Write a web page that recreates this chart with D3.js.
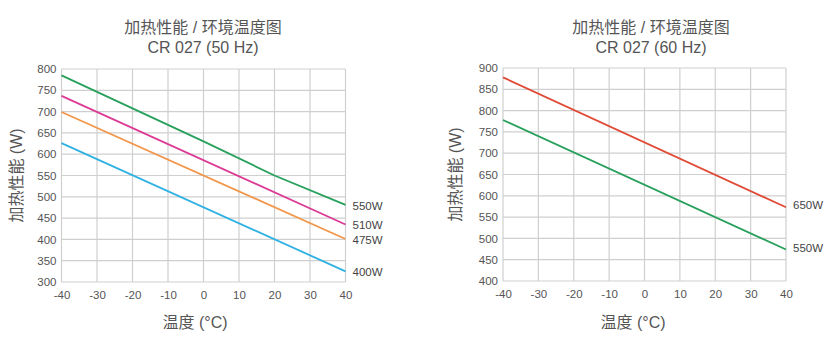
<!DOCTYPE html>
<html>
<head>
<meta charset="utf-8">
<script src="https://cdn.jsdelivr.net/npm/d3@7"></script>
<style>
  html, body { margin: 0; padding: 0; background: #fff; }
  svg { display: block; }
  .tick-label { font-family: "Liberation Sans", Arial, sans-serif; font-size: 11.5px; fill: #555; }
  .title { font-family: "Liberation Sans", "Noto Sans CJK SC", sans-serif; font-size: 16px; fill: #555; }
  .axis-title { font-family: "Liberation Sans", "Noto Sans CJK SC", sans-serif; font-size: 16px; fill: #555; }
  .series-label { font-family: "Liberation Sans", Arial, sans-serif; font-size: 11.5px; fill: #444; }
</style>
</head>
<body>
<svg id="chart" width="832" height="348"></svg>
<script>
// Heating output vs ambient temperature, CR 027 at 50 Hz and 60 Hz
const titleLine1 = "加热性能 / 环境温度图";
const titles50 = "CR 027 (50 Hz)";
const titles60 = "CR 027 (60 Hz)";
const yAxisTitle = "加热性能 (W)";
const xAxisTitle = "温度 (°C)";

const xTicks = [-40, -30, -20, -10, 0, 10, 20, 30, 40];
const yTicks50 = [300, 350, 400, 450, 500, 550, 600, 650, 700, 750, 800];
const yTicks60 = [400, 450, 500, 550, 600, 650, 700, 750, 800, 850, 900];

// 50 Hz series (temperature °C -> heating output W)
const names50 = ["550W", "510W", "475W", "400W"];
const temps50 = [[-40, 0, 20, 40], [-40, 40], [-40, 40], [-40, 40]];
const values50 = [[785, 630, 550, 481], [737, 435], [699, 401], [626, 325]];
const colors50 = ["#27a05c", "#dc3a95", "#f2964a", "#2eb1e3"];

// 60 Hz series
const names60 = ["650W", "550W"];
const temps60 = [[-40, 40], [-40, 40]];
const values60 = [[878, 573], [778, 474]];
const colors60 = ["#e04a37", "#27a05c"];

const svg = d3.select("#chart");

function drawPanel(opt) {
  const g = svg.append("g");
  const x = d3.scaleLinear().domain([-40, 40]).range([opt.left, opt.right]);
  const y = d3.scaleLinear().domain(opt.yDomain).range([opt.bottom, opt.top]);

  // grid
  g.append("g").selectAll("line").data(xTicks).join("line")
    .attr("x1", d => x(d)).attr("x2", d => x(d))
    .attr("y1", opt.top).attr("y2", opt.bottom)
    .attr("stroke", "#cfcfcf").attr("stroke-width", 1.2);
  g.append("g").selectAll("line").data(opt.yTicks).join("line")
    .attr("x1", opt.left).attr("x2", opt.right)
    .attr("y1", d => y(d)).attr("y2", d => y(d))
    .attr("stroke", "#cfcfcf").attr("stroke-width", 1.2);

  // axes (labels only)
  const fmt = d => String(d);
  const yAxis = g.append("g").attr("transform", `translate(${opt.left},0)`)
    .call(d3.axisLeft(y).tickValues(opt.yTicks).tickFormat(fmt).tickSize(0).tickPadding(5));
  const xAxis = g.append("g").attr("transform", `translate(0,${opt.bottom})`)
    .call(d3.axisBottom(x).tickValues(xTicks).tickFormat(fmt).tickSize(0).tickPadding(9));
  [yAxis, xAxis].forEach(a => {
    a.attr("font-size", null).attr("font-family", null);
    a.select(".domain").remove();
    a.selectAll("text").attr("class", "tick-label").attr("fill", null);
  });

  // series
  const line = d3.line().x(d => x(d[0])).y(d => y(d[1]));
  opt.names.forEach((name, i) => {
    const pts = opt.temps[i].map((t, j) => [t, opt.values[i][j]]);
    g.append("path").datum(pts)
      .attr("d", line)
      .attr("fill", "none")
      .attr("stroke", opt.colors[i])
      .attr("stroke-width", 1.8);
    const last = pts[pts.length - 1];
    g.append("text").attr("class", "series-label")
      .attr("x", x(last[0]) + 7)
      .attr("y", y(last[1]) + opt.labelDy[i])
      .attr("dominant-baseline", "central")
      .text(name);
  });

  // titles
  g.append("text").attr("class", "title").attr("text-anchor", "middle")
    .attr("x", opt.titleX).attr("y", 33).text(titleLine1);
  g.append("text").attr("class", "title").attr("text-anchor", "middle")
    .attr("x", opt.titleX).attr("y", 53).text(opt.subtitle);
  g.append("text").attr("class", "axis-title").attr("text-anchor", "middle")
    .attr("dominant-baseline", "central")
    .attr("transform", `translate(${opt.yTitleX},${(opt.top + opt.bottom) / 2}) rotate(-90)`)
    .text(yAxisTitle);
  g.append("text").attr("class", "axis-title").attr("text-anchor", "middle")
    .attr("x", opt.xTitleX).attr("y", 328).text(xAxisTitle);
}

drawPanel({
  left: 61.5, right: 345.5, top: 69, bottom: 282,
  yDomain: [300, 800], yTicks: yTicks50,
  names: names50, temps: temps50, values: values50, colors: colors50,
  labelDy: [1, 1, 1, 1],
  subtitle: titles50, titleX: 203, yTitleX: 16, xTitleX: 195
});

drawPanel({
  left: 503, right: 786, top: 68, bottom: 281,
  yDomain: [400, 900], yTicks: yTicks60,
  names: names60, temps: temps60, values: values60, colors: colors60,
  labelDy: [-2, -1],
  subtitle: titles60, titleX: 651, yTitleX: 455, xTitleX: 633
});
</script>
</body>
</html>
